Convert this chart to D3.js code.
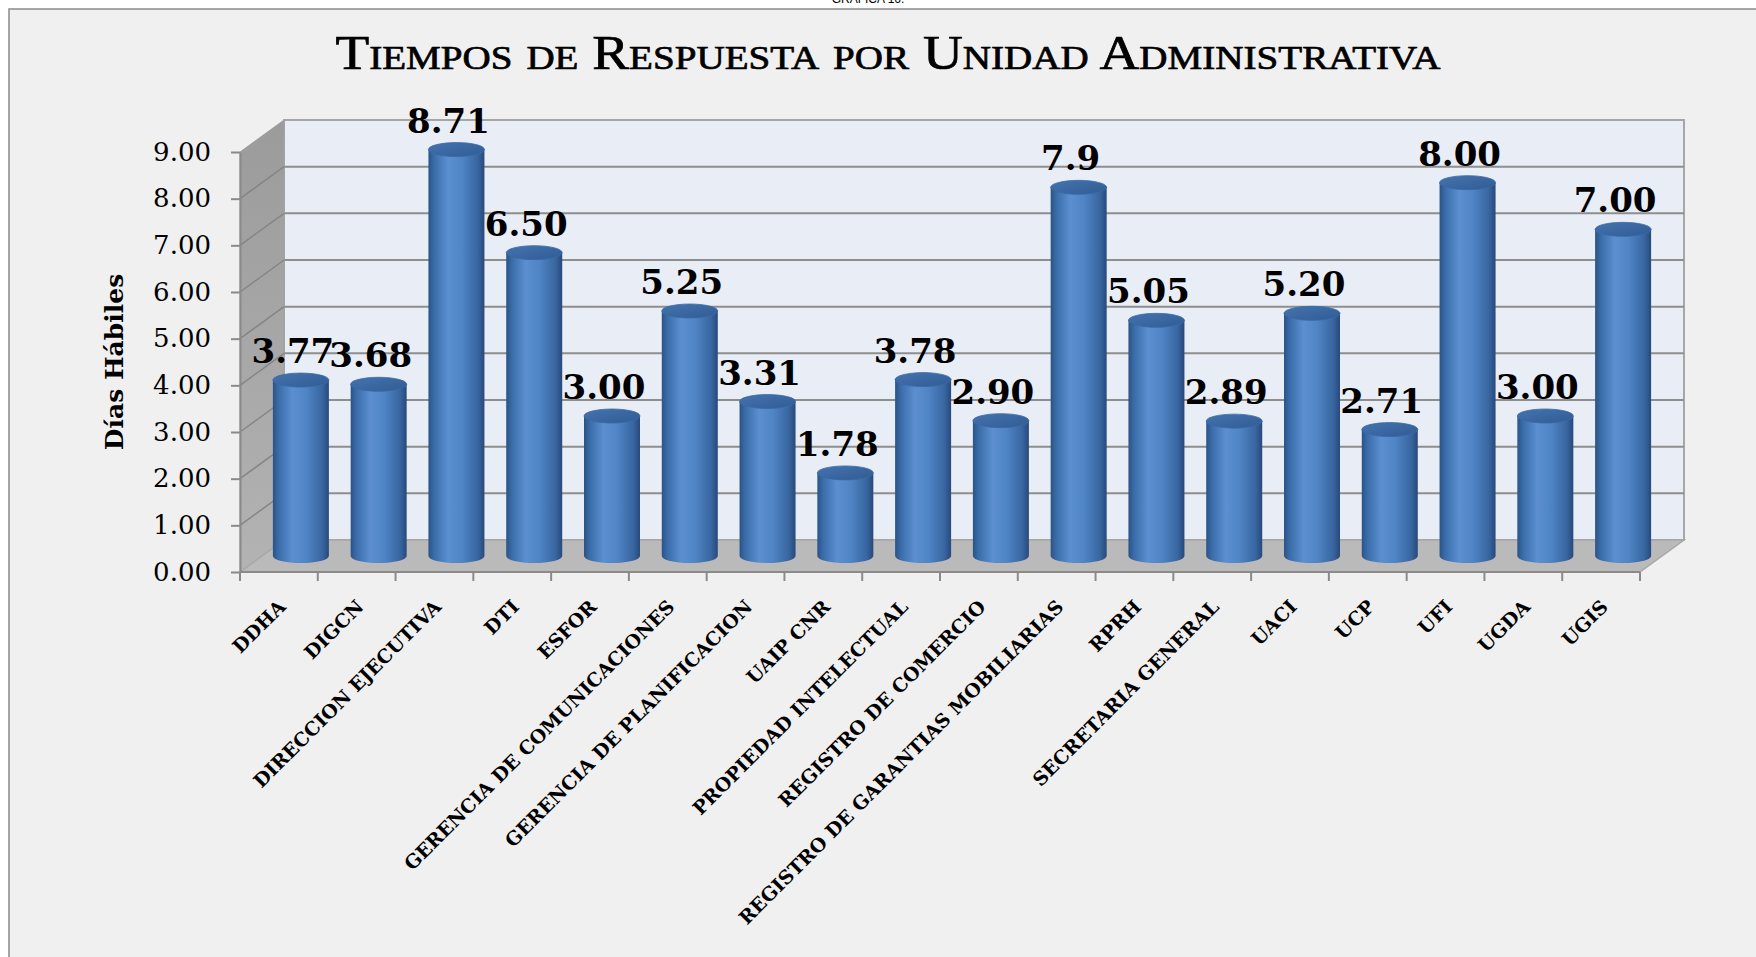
<!DOCTYPE html>
<html>
<head>
<script src='https://d3js.org/d3.v7.min.js'></script>
<style>
body {margin: 0; background: white;}
svg {display: block;}
.ylab {font-family: "DejaVu Serif"; font-size: 26px; fill: black;}
.xlab {font-family: "DejaVu Serif"; font-weight: bold; font-size: 19px; fill: black;}
.vlab {font-family: "DejaVu Serif"; font-weight: bold; font-size: 34px; fill: black;}
</style>
</head>
<body>
<svg width="1756" height="957"></svg>
<script>
var unidades = ["DDHA", "DIGCN", "DIRECCION EJECUTIVA", "DTI", "ESFOR",
  "GERENCIA DE COMUNICACIONES", "GERENCIA DE PLANIFICACION", "UAIP CNR",
  "PROPIEDAD INTELECTUAL", "REGISTRO DE COMERCIO", "REGISTRO DE GARANTIAS MOBILIARIAS",
  "RPRH", "SECRETARIA GENERAL", "UACI", "UCP", "UFI", "UGDA", "UGIS"];
var dias = [3.77, 3.68, 8.71, 6.50, 3.00, 5.25, 3.31, 1.78, 3.78, 2.90, 7.9, 5.05, 2.89, 5.20, 2.71, 8.00, 3.00, 7.00];
var etiquetas = ["3.77", "3.68", "8.71", "6.50", "3.00", "5.25", "3.31", "1.78", "3.78", "2.90", "7.9", "5.05", "2.89", "5.20", "2.71", "8.00", "3.00", "7.00"];
var yTicks = [0, 1, 2, 3, 4, 5, 6, 7, 8, 9];

var svg = d3.select("svg");

// 3d depth offset of the chart box
var dx = 44, dy = -32;
var x = d3.scaleBand().domain(unidades).range([240, 1640]);
var y = d3.scaleLinear().domain([0, 9]).range([572, 152]);

var defs = svg.append("defs");
var g1 = defs.append("linearGradient").attr("id", "cyl").attr("x1", 0).attr("x2", 1).attr("y1", 0).attr("y2", 0);
[["0%", "#2a5386"], ["10%", "#3a6ca9"], ["35%", "#5b8fd0"], ["60%", "#4f84c5"], ["88%", "#3866a0"], ["100%", "#28497a"]]
  .forEach(function(s) { g1.append("stop").attr("offset", s[0]).attr("stop-color", s[1]); });
var g2 = defs.append("linearGradient").attr("id", "cap").attr("x1", 0).attr("x2", 1).attr("y1", 0).attr("y2", 1);
[["0%", "#4473af"], ["100%", "#315c94"]]
  .forEach(function(s) { g2.append("stop").attr("offset", s[0]).attr("stop-color", s[1]); });
var g3 = defs.append("linearGradient").attr("id", "side").attr("x1", 0).attr("x2", 0).attr("y1", 0).attr("y2", 1);
[["0%", "#9b9b9b"], ["100%", "#b3b3b3"]]
  .forEach(function(s) { g3.append("stop").attr("offset", s[0]).attr("stop-color", s[1]); });

// page frame
svg.append("rect").attr("x", 9).attr("y", 9).attr("width", 1760).attr("height", 960)
  .attr("fill", "#f0f0f0").attr("stroke", "#8a8a8a").attr("stroke-width", 1.5);
svg.append("text").attr("x", 868).attr("y", 3).attr("text-anchor", "middle")
  .style("font-family", "Liberation Sans").style("font-size", "12px").text("GRÁFICA 16.");

svg.append("text")
  .attr("x", 888).attr("y", 69)
  .attr("text-anchor", "middle")
  .attr("textLength", 1105).attr("lengthAdjust", "spacingAndGlyphs")
  .style("font-family", "Liberation Serif").style("font-size", "48px").style("font-variant", "small-caps")
  .style("stroke", "black").style("stroke-width", "0.7px")
  .text("Tiempos de Respuesta por Unidad Administrativa");

var x0 = x.range()[0], x1 = x.range()[1];

// back wall
svg.append("rect").attr("x", x0 + dx).attr("y", y(9) + dy)
  .attr("width", x1 - x0).attr("height", y(0) - y(9))
  .attr("fill", "#e9eef6").attr("stroke", "#a6a6a6").attr("stroke-width", 2);
svg.append("g").selectAll("line").data(yTicks.slice(1, 9)).enter().append("line")
  .attr("x1", x0 + dx).attr("x2", x1 + dx)
  .attr("y1", function(d) { return y(d) + dy; }).attr("y2", function(d) { return y(d) + dy; })
  .attr("stroke", "#8e8e8e").attr("stroke-width", 2);

// side wall
svg.append("polygon")
  .attr("points", [[x0, y(9)], [x0 + dx, y(9) + dy], [x0 + dx, y(0) + dy], [x0, y(0)]].join(" "))
  .attr("fill", "url(#side)").attr("stroke", "#a0a0a0");
svg.append("g").selectAll("line").data(yTicks.slice(1, 9)).enter().append("line")
  .attr("x1", x0).attr("x2", x0 + dx)
  .attr("y1", function(d) { return y(d); }).attr("y2", function(d) { return y(d) + dy; })
  .attr("stroke", "#858585").attr("stroke-width", 1.5);

// floor
svg.append("polygon")
  .attr("points", [[x0, y(0)], [x0 + dx, y(0) + dy], [x1 + dx, y(0) + dy], [x1, y(0)]].join(" "))
  .attr("fill", "#bababa").attr("stroke", "#a8a8a8").attr("stroke-width", 1.5);

// cylinders
var bars = svg.append("g").selectAll("g").data(unidades).enter().append("g");
function cx(d) { return x(d) + x.bandwidth() / 2 + dx / 2; }
var rx = 28, ry = 7;
var base = y(0) + dy / 2;
bars.append("path")
  .attr("d", function(d, i) {
    var c = cx(d), t = y(dias[i]) + dy / 2;
    return "M" + (c - rx) + "," + t + "L" + (c - rx) + "," + base +
      "A" + rx + "," + ry + " 0 0 0 " + (c + rx) + "," + base +
      "L" + (c + rx) + "," + t + "Z";
  })
  .attr("fill", "url(#cyl)");
bars.append("ellipse")
  .attr("cx", cx)
  .attr("cy", function(d, i) { return y(dias[i]) + dy / 2; })
  .attr("rx", rx).attr("ry", ry)
  .attr("fill", "url(#cap)").attr("stroke", "#3a6aa5").attr("stroke-width", 0.8);
bars.append("text").attr("class", "vlab")
  .attr("x", function(d) { return cx(d) - 8; })
  .attr("y", function(d, i) { return y(dias[i]) + dy / 2 - 17; })
  .attr("text-anchor", "middle")
  .text(function(d, i) { return etiquetas[i]; });

// y axis
var yAxis = svg.append("g").attr("transform", "translate(" + x0 + ",0)")
  .call(d3.axisLeft(y).tickValues(yTicks).tickFormat(d3.format(".2f")).tickSize(9).tickSizeOuter(0).tickPadding(20));
yAxis.selectAll("path, line").attr("stroke", "#8a8a8a").attr("stroke-width", 2);
yAxis.selectAll("text").attr("class", "ylab").attr("fill", null);

// x axis: line and ticks on the category borders
var xAxis = svg.append("g");
xAxis.append("line").attr("x1", x0).attr("x2", x1).attr("y1", y(0)).attr("y2", y(0))
  .attr("stroke", "#8a8a8a").attr("stroke-width", 2);
xAxis.selectAll(".tk").data(unidades.concat(["end"])).enter().append("line")
  .attr("x1", function(d, i) { return x0 + i * x.step(); })
  .attr("x2", function(d, i) { return x0 + i * x.step(); })
  .attr("y1", y(0)).attr("y2", y(0) + 9)
  .attr("stroke", "#8a8a8a").attr("stroke-width", 2);
xAxis.selectAll("text").data(unidades).enter().append("text")
  .attr("class", "xlab")
  .attr("text-anchor", "end")
  .attr("transform", function(d) {
    return "translate(" + (x(d) + x.bandwidth() / 2 + 8) + "," + (y(0) + 36) + ") rotate(-45)";
  })
  .text(function(d) { return d; });

// text label for the y axis
svg.append("text")
  .attr("transform", "translate(123,362) rotate(-90)")
  .attr("text-anchor", "middle")
  .style("font-family", "DejaVu Serif").style("font-weight", "bold").style("font-size", "25px")
  .text("Días Hábiles");
</script>
</body>
</html>
